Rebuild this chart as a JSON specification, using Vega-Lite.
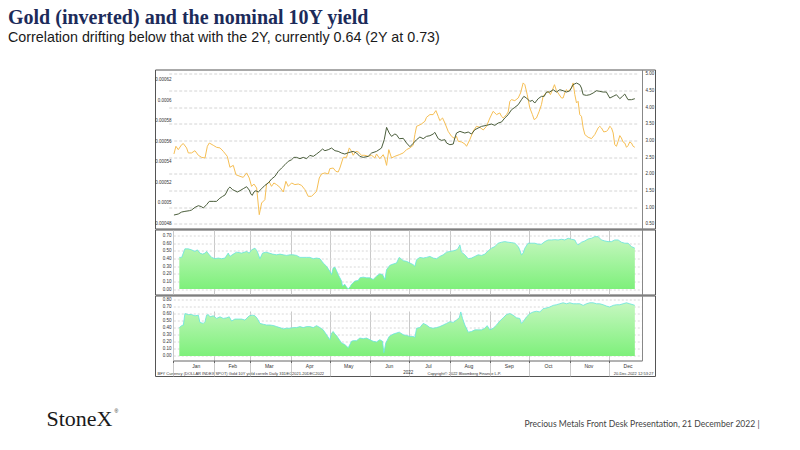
{
"$schema": "https://vega.github.io/schema/vega-lite/v6.json",
"autosize": {"type": "none"},
"padding": {"left": 155, "top": 69.5, "right": 645, "bottom": 380.5},
"background": "white",
"title": {"text": "Gold (inverted) and the nominal 10Y yield", "subtitle": "Correlation drifting below that with the 2Y, currently 0.64 (2Y at 0.73)", "anchor": "start", "frame": "group", "dx": -147, "offset": 24, "font": "Liberation Serif", "fontSize": 20, "fontWeight": "bold", "color": "#1c2b5a", "subtitleFont": "Liberation Sans", "subtitleFontSize": 14.3, "subtitleColor": "#1a1a1a", "subtitlePadding": 3},
"config": {
  "view": {"stroke": "#555", "strokeWidth": 1},
  "axis": {"labelFont": "Liberation Sans", "labelFontSize": 4.5, "labelColor": "#333", "titleFont": "Liberation Sans", "titleFontWeight": "normal", "titleColor": "#333", "titleFontSize": 4, "tickSize": 0, "ticks": false, "domain": false, "grid": false}
},
"bounds": "flush",
"spacing": 1,
"datasets": {
"gold": [
{"day":0.5,"value":0.0005476},{"day":2.0,"value":0.0005551},{"day":3.8,"value":0.0005518},{"day":6.4,"value":0.0005567},{"day":7.7,"value":0.0005577},{"day":10.2,"value":0.0005535},{"day":11.5,"value":0.0005486},{"day":14.0,"value":0.0005486},{"day":16.6,"value":0.0005508},{"day":19.2,"value":0.0005463},{"day":21.7,"value":0.0005443},{"day":24.3,"value":0.0005437},{"day":26.1,"value":0.0005551},{"day":27.6,"value":0.0005583},{"day":30.6,"value":0.0005561},{"day":33.2,"value":0.0005541},{"day":35.8,"value":0.0005535},{"day":38.3,"value":0.0005502},{"day":41.4,"value":0.0005453},{"day":43.4,"value":0.0005346},{"day":46.0,"value":0.0005365},{"day":48.0,"value":0.0005274},{"day":51.1,"value":0.0005258},{"day":53.6,"value":0.0005248},{"day":56.2,"value":0.0005291},{"day":58.2,"value":0.0005242},{"day":60.0,"value":0.0005160},{"day":61.8,"value":0.0005183},{"day":63.9,"value":0.0005144},{"day":65.9,"value":0.0004884},{"day":67.7,"value":0.0004998},{"day":70.2,"value":0.0005030},{"day":71.5,"value":0.0005183},{"day":73.6,"value":0.0005203},{"day":75.3,"value":0.0005160},{"day":77.1,"value":0.0005193},{"day":79.2,"value":0.0005177},{"day":81.7,"value":0.0005151},{"day":84.3,"value":0.0005105},{"day":86.3,"value":0.0005209},{"day":88.1,"value":0.0005160},{"day":90.7,"value":0.0005193},{"day":93.2,"value":0.0005177},{"day":95.8,"value":0.0005183},{"day":98.3,"value":0.0005170},{"day":100.9,"value":0.0005128},{"day":103.4,"value":0.0005063},{"day":106.0,"value":0.0005063},{"day":107.8,"value":0.0005086},{"day":109.8,"value":0.0005112},{"day":111.9,"value":0.0005242},{"day":113.7,"value":0.0005281},{"day":116.2,"value":0.0005291},{"day":118.8,"value":0.0005281},{"day":120.0,"value":0.0005333},{"day":122.6,"value":0.0005339},{"day":124.6,"value":0.0005307},{"day":126.4,"value":0.0005300},{"day":127.7,"value":0.0005339},{"day":130.3,"value":0.0005443},{"day":132.8,"value":0.0005443},{"day":134.9,"value":0.0005535},{"day":136.6,"value":0.0005502},{"day":137.9,"value":0.0005463},{"day":140.0,"value":0.0005502},{"day":141.7,"value":0.0005496},{"day":144.3,"value":0.0005463},{"day":146.9,"value":0.0005463},{"day":149.4,"value":0.0005453},{"day":152.0,"value":0.0005463},{"day":154.5,"value":0.0005437},{"day":155.8,"value":0.0005476},{"day":158.3,"value":0.0005430},{"day":160.9,"value":0.0005469},{"day":162.2,"value":0.0005430},{"day":163.5,"value":0.0005365},{"day":165.2,"value":0.0005518},{"day":167.3,"value":0.0005437},{"day":169.8,"value":0.0005453},{"day":173.2,"value":0.0005469},
{"day":176.3,"value":0.0005486},{"day":178.8,"value":0.0005518},{"day":181.4,"value":0.0005535},{"day":183.9,"value":0.0005561},{"day":185.2,"value":0.0005665},{"day":186.5,"value":0.0005746},{"day":187.7,"value":0.0005752},{"day":190.3,"value":0.0005769},{"day":192.9,"value":0.0005795},{"day":194.1,"value":0.0005834},{"day":196.7,"value":0.0005860},{"day":199.2,"value":0.0005860},{"day":201.3,"value":0.0005899},{"day":203.1,"value":0.0005843},{"day":204.3,"value":0.0005801},{"day":206.4,"value":0.0005827},{"day":208.2,"value":0.0005778},{"day":210.7,"value":0.0005697},{"day":213.3,"value":0.0005648},{"day":215.8,"value":0.0005626},{"day":217.1,"value":0.0005648},{"day":218.4,"value":0.0005600},{"day":221.0,"value":0.0005593},{"day":223.5,"value":0.0005574},{"day":224.8,"value":0.0005551},{"day":227.3,"value":0.0005616},{"day":229.9,"value":0.0005697},{"day":232.4,"value":0.0005746},{"day":235.0,"value":0.0005736},{"day":237.6,"value":0.0005710},{"day":240.1,"value":0.0005746},{"day":242.7,"value":0.0005827},{"day":245.2,"value":0.0005892},{"day":247.8,"value":0.0005860},{"day":250.3,"value":0.0005876},{"day":251.6,"value":0.0005843},{"day":252.9,"value":0.0005827},{"day":255.4,"value":0.0005860},{"day":256.7,"value":0.0005886},{"day":258.0,"value":0.0005990},{"day":259.3,"value":0.0006006},{"day":261.8,"value":0.0005996},{"day":264.4,"value":0.0006022},{"day":266.2,"value":0.0006071},{"day":268.2,"value":0.0006169},{"day":269.5,"value":0.0006152},{"day":271.3,"value":0.0006055},{"day":273.3,"value":0.0005925},{"day":275.3,"value":0.0005860},{"day":276.6,"value":0.0005811},{"day":278.4,"value":0.0005827},{"day":280.5,"value":0.0005892},{"day":282.2,"value":0.0005957},{"day":283.5,"value":0.0006039},{"day":285.6,"value":0.0006071},{"day":287.4,"value":0.0006087},{"day":289.1,"value":0.0006055},{"day":290.7,"value":0.0006104},{"day":292.2,"value":0.0006152},{"day":293.7,"value":0.0006094},{"day":295.8,"value":0.0006055},{"day":297.6,"value":0.0006022},{"day":298.8,"value":0.0006022},{"day":300.1,"value":0.0006071},{"day":301.4,"value":0.0006104},{"day":302.7,"value":0.0006081},{"day":304.0,"value":0.0006104},{"day":305.2,"value":0.0006120},{"day":306.5,"value":0.0006169},{"day":307.8,"value":0.0006055},{"day":309.1,"value":0.0005974},{"day":310.3,"value":0.0005990},{"day":311.6,"value":0.0005860},{"day":312.9,"value":0.0005843},{"day":314.2,"value":0.0005730},{"day":315.5,"value":0.0005665},{"day":318.0,"value":0.0005639},{"day":320.6,"value":0.0005626},{"day":323.1,"value":0.0005665},{"day":325.7,"value":0.0005730},{"day":326.9,"value":0.0005746},{"day":328.2,"value":0.0005730},{"day":330.0,"value":0.0005691},{"day":332.0,"value":0.0005697},{"day":333.3,"value":0.0005713},{"day":334.6,"value":0.0005746},{"day":335.9,"value":0.0005730},{"day":337.2,"value":0.0005681},{"day":338.4,"value":0.0005567},{"day":339.7,"value":0.0005551},{"day":341.0,"value":0.0005600},{"day":342.3,"value":0.0005655},{"day":343.5,"value":0.0005632},{"day":344.8,"value":0.0005593},{"day":346.1,"value":0.0005583},{"day":347.4,"value":0.0005541},{"day":348.6,"value":0.0005557},{"day":349.9,"value":0.0005593},{"day":351.2,"value":0.0005583},{"day":352.5,"value":0.0005551},{"day":353.8,"value":0.0005541}
],
"yield": [
{"day":0.5,"value":0.76},{"day":3.8,"value":0.79},{"day":6.4,"value":0.85},{"day":8.9,"value":0.87},{"day":12.3,"value":0.89},{"day":14.0,"value":0.91},{"day":16.6,"value":0.99},{"day":19.2,"value":1.04},{"day":21.7,"value":1.01},{"day":23.0,"value":0.97},{"day":25.5,"value":1.07},{"day":27.6,"value":1.17},{"day":30.6,"value":1.17},{"day":33.2,"value":1.17},{"day":35.2,"value":1.25},{"day":37.8,"value":1.32},{"day":39.6,"value":1.36},{"day":40.9,"value":1.45},{"day":42.1,"value":1.55},{"day":43.4,"value":1.60},{"day":45.5,"value":1.52},{"day":47.2,"value":1.49},{"day":49.0,"value":1.45},{"day":51.1,"value":1.49},{"day":53.6,"value":1.55},{"day":56.2,"value":1.61},{"day":58.2,"value":1.51},{"day":59.5,"value":1.39},{"day":60.5,"value":1.35},{"day":61.8,"value":1.45},{"day":63.3,"value":1.49},{"day":65.1,"value":1.45},{"day":67.7,"value":1.55},{"day":70.2,"value":1.65},{"day":72.8,"value":1.72},{"day":75.3,"value":1.84},{"day":77.9,"value":1.92},{"day":80.5,"value":2.07},{"day":83.0,"value":2.17},{"day":85.6,"value":2.27},{"day":88.1,"value":2.37},{"day":90.7,"value":2.42},{"day":92.5,"value":2.49},{"day":94.5,"value":2.49},{"day":97.1,"value":2.45},{"day":99.6,"value":2.49},{"day":102.2,"value":2.45},{"day":104.7,"value":2.55},{"day":107.3,"value":2.52},{"day":109.8,"value":2.59},{"day":112.4,"value":2.67},{"day":114.4,"value":2.74},{"day":116.2,"value":2.69},{"day":118.8,"value":2.72},{"day":121.3,"value":2.77},{"day":123.9,"value":2.69},{"day":126.4,"value":2.67},{"day":129.0,"value":2.62},{"day":131.5,"value":2.59},{"day":134.1,"value":2.63},{"day":137.9,"value":2.67},{"day":140.5,"value":2.62},{"day":143.0,"value":2.52},{"day":145.6,"value":2.49},{"day":149.4,"value":2.52},{"day":152.0,"value":2.62},{"day":155.8,"value":2.67},{"day":159.6,"value":2.77},{"day":161.7,"value":3.02},{"day":163.5,"value":3.39},{"day":165.5,"value":3.22},{"day":167.3,"value":3.12},{"day":169.8,"value":3.19},{"day":171.1,"value":3.17},{"day":173.2,"value":3.05},
{"day":176.3,"value":3.06},{"day":178.8,"value":2.92},{"day":181.4,"value":2.81},{"day":183.9,"value":2.91},{"day":186.5,"value":3.02},{"day":189.0,"value":3.10},{"day":191.6,"value":3.05},{"day":194.1,"value":3.12},{"day":196.7,"value":3.14},{"day":199.2,"value":3.19},{"day":200.5,"value":3.24},{"day":203.1,"value":3.05},{"day":205.6,"value":3.00},{"day":208.2,"value":3.02},{"day":209.5,"value":2.92},{"day":212.0,"value":2.87},{"day":214.6,"value":2.89},{"day":215.8,"value":3.07},{"day":217.1,"value":3.22},{"day":219.7,"value":3.27},{"day":223.5,"value":3.22},{"day":226.1,"value":3.25},{"day":228.6,"value":3.19},{"day":231.2,"value":3.32},{"day":233.7,"value":3.37},{"day":236.3,"value":3.42},{"day":240.1,"value":3.45},{"day":243.9,"value":3.49},{"day":246.5,"value":3.45},{"day":249.0,"value":3.52},{"day":251.6,"value":3.55},{"day":254.1,"value":3.67},{"day":256.7,"value":3.77},{"day":259.3,"value":3.92},{"day":261.8,"value":3.99},{"day":264.4,"value":4.07},{"day":266.9,"value":4.22},{"day":268.7,"value":4.32},{"day":270.8,"value":4.27},{"day":273.3,"value":4.17},{"day":275.3,"value":4.20},{"day":277.1,"value":4.12},{"day":279.7,"value":4.25},{"day":282.2,"value":4.32},{"day":284.3,"value":4.32},{"day":286.1,"value":4.45},{"day":288.6,"value":4.45},{"day":291.2,"value":4.52},{"day":293.7,"value":4.45},{"day":296.3,"value":4.52},{"day":298.8,"value":4.49},{"day":301.4,"value":4.45},{"day":304.0,"value":4.49},{"day":306.5,"value":4.67},{"day":309.1,"value":4.72},{"day":311.6,"value":4.67},{"day":312.9,"value":4.57},{"day":314.2,"value":4.37},{"day":316.7,"value":4.35},{"day":319.3,"value":4.37},{"day":321.8,"value":4.42},{"day":324.4,"value":4.49},{"day":326.9,"value":4.47},{"day":329.5,"value":4.45},{"day":332.0,"value":4.45},{"day":334.6,"value":4.27},{"day":337.2,"value":4.32},{"day":339.7,"value":4.37},{"day":342.3,"value":4.25},{"day":344.3,"value":4.32},{"day":346.1,"value":4.39},{"day":348.6,"value":4.22},{"day":351.2,"value":4.22},{"day":353.8,"value":4.25}
],
"c10": [
{"day":4.6,"value":0.415},{"day":6.4,"value":0.415},{"day":8.9,"value":0.527},{"day":11.5,"value":0.527},{"day":14.0,"value":0.514},{"day":16.6,"value":0.493},{"day":18.4,"value":0.514},{"day":20.4,"value":0.471},{"day":22.5,"value":0.458},{"day":24.3,"value":0.471},{"day":25.5,"value":0.493},{"day":27.6,"value":0.449},{"day":29.4,"value":0.415},{"day":31.9,"value":0.398},{"day":34.5,"value":0.406},{"day":37.0,"value":0.398},{"day":39.6,"value":0.406},{"day":42.1,"value":0.471},{"day":43.4,"value":0.428},{"day":46.0,"value":0.458},{"day":48.5,"value":0.484},{"day":52.4,"value":0.471},{"day":56.2,"value":0.493},{"day":58.2,"value":0.471},{"day":60.0,"value":0.514},{"day":62.6,"value":0.536},{"day":64.4,"value":0.493},{"day":66.4,"value":0.398},{"day":68.4,"value":0.471},{"day":71.0,"value":0.484},{"day":73.6,"value":0.471},{"day":76.1,"value":0.458},{"day":79.2,"value":0.449},{"day":81.7,"value":0.458},{"day":84.3,"value":0.449},{"day":86.8,"value":0.441},{"day":89.4,"value":0.449},{"day":91.9,"value":0.449},{"day":94.5,"value":0.441},{"day":97.1,"value":0.415},{"day":102.2,"value":0.415},{"day":104.7,"value":0.415},{"day":107.3,"value":0.398},{"day":109.8,"value":0.406},{"day":112.4,"value":0.398},{"day":114.9,"value":0.341},{"day":117.5,"value":0.298},{"day":120.0,"value":0.233},{"day":121.3,"value":0.190},{"day":122.6,"value":0.277},{"day":123.9,"value":0.285},{"day":125.1,"value":0.242},{"day":126.4,"value":0.190},{"day":127.7,"value":0.147},{"day":129.0,"value":0.104},{"day":129.7,"value":0.039},{"day":131.5,"value":0.061},{"day":132.8,"value":0.026},{"day":134.1,"value":0.0},{"day":135.4,"value":0.026},{"day":136.6,"value":0.061},{"day":139.2,"value":0.104},{"day":141.7,"value":0.112},{"day":143.0,"value":0.147},{"day":145.6,"value":0.156},{"day":148.1,"value":0.147},{"day":150.7,"value":0.147},{"day":153.2,"value":0.125},{"day":155.8,"value":0.169},{"day":158.3,"value":0.199},{"day":160.4,"value":0.190},{"day":162.2,"value":0.125},{"day":163.5,"value":0.255},{"day":166.0,"value":0.311},{"day":168.6,"value":0.328},{"day":171.1,"value":0.341},{"day":173.2,"value":0.415},
{"day":176.3,"value":0.372},{"day":178.8,"value":0.363},{"day":181.4,"value":0.341},{"day":183.9,"value":0.320},{"day":185.2,"value":0.298},{"day":186.5,"value":0.385},{"day":189.0,"value":0.415},{"day":191.6,"value":0.406},{"day":194.1,"value":0.415},{"day":196.7,"value":0.428},{"day":199.2,"value":0.406},{"day":201.8,"value":0.398},{"day":204.3,"value":0.428},{"day":206.9,"value":0.449},{"day":209.5,"value":0.484},{"day":212.0,"value":0.493},{"day":214.6,"value":0.501},{"day":217.1,"value":0.514},{"day":218.4,"value":0.536},{"day":219.7,"value":0.579},{"day":220.9,"value":0.484},{"day":223.5,"value":0.449},{"day":226.1,"value":0.398},{"day":228.6,"value":0.406},{"day":231.2,"value":0.428},{"day":233.7,"value":0.449},{"day":236.3,"value":0.441},{"day":238.8,"value":0.458},{"day":241.4,"value":0.501},{"day":243.9,"value":0.536},{"day":246.5,"value":0.557},{"day":249.0,"value":0.601},{"day":251.6,"value":0.614},{"day":254.1,"value":0.622},{"day":256.7,"value":0.614},{"day":259.3,"value":0.609},{"day":261.8,"value":0.601},{"day":264.4,"value":0.557},{"day":265.6,"value":0.514},{"day":266.9,"value":0.449},{"day":268.2,"value":0.471},{"day":269.5,"value":0.536},{"day":272.0,"value":0.601},{"day":274.6,"value":0.601},{"day":277.1,"value":0.601},{"day":279.7,"value":0.588},{"day":282.2,"value":0.588},{"day":284.8,"value":0.622},{"day":287.4,"value":0.644},{"day":289.9,"value":0.644},{"day":292.5,"value":0.648},{"day":295.0,"value":0.644},{"day":297.6,"value":0.653},{"day":300.1,"value":0.644},{"day":302.7,"value":0.666},{"day":305.2,"value":0.653},{"day":307.8,"value":0.644},{"day":309.1,"value":0.601},{"day":310.3,"value":0.579},{"day":312.9,"value":0.614},{"day":315.5,"value":0.631},{"day":318.0,"value":0.657},{"day":320.6,"value":0.666},{"day":323.1,"value":0.687},{"day":325.7,"value":0.687},{"day":328.2,"value":0.644},{"day":330.8,"value":0.631},{"day":333.3,"value":0.622},{"day":335.9,"value":0.622},{"day":338.4,"value":0.644},{"day":341.0,"value":0.644},{"day":343.5,"value":0.614},{"day":346.1,"value":0.601},{"day":348.6,"value":0.601},{"day":351.2,"value":0.557},{"day":353.8,"value":0.536}
],
"c2": [
{"day":4.6,"value":0.402},{"day":6.4,"value":0.430},{"day":7.7,"value":0.439},{"day":8.9,"value":0.601},{"day":11.5,"value":0.587},{"day":14.0,"value":0.587},{"day":16.6,"value":0.569},{"day":19.2,"value":0.578},{"day":20.4,"value":0.476},{"day":23.0,"value":0.462},{"day":24.3,"value":0.486},{"day":25.5,"value":0.578},{"day":26.8,"value":0.587},{"day":28.1,"value":0.555},{"day":30.6,"value":0.569},{"day":33.2,"value":0.532},{"day":35.8,"value":0.555},{"day":38.3,"value":0.532},{"day":40.9,"value":0.541},{"day":42.9,"value":0.555},{"day":44.7,"value":0.495},{"day":47.2,"value":0.523},{"day":49.8,"value":0.523},{"day":52.4,"value":0.523},{"day":54.9,"value":0.509},{"day":58.2,"value":0.569},{"day":60.8,"value":0.578},{"day":62.6,"value":0.569},{"day":64.4,"value":0.532},{"day":66.4,"value":0.462},{"day":69.0,"value":0.449},{"day":71.5,"value":0.439},{"day":74.1,"value":0.439},{"day":77.1,"value":0.430},{"day":79.2,"value":0.416},{"day":81.7,"value":0.402},{"day":84.3,"value":0.384},{"day":86.8,"value":0.393},{"day":89.4,"value":0.393},{"day":91.9,"value":0.402},{"day":94.5,"value":0.402},{"day":97.1,"value":0.416},{"day":99.6,"value":0.402},{"day":102.2,"value":0.416},{"day":104.7,"value":0.416},{"day":107.3,"value":0.402},{"day":109.8,"value":0.430},{"day":112.4,"value":0.402},{"day":114.9,"value":0.370},{"day":117.5,"value":0.301},{"day":120.0,"value":0.231},{"day":121.3,"value":0.324},{"day":122.6,"value":0.347},{"day":123.9,"value":0.310},{"day":125.1,"value":0.291},{"day":126.4,"value":0.254},{"day":129.0,"value":0.185},{"day":131.5,"value":0.162},{"day":134.1,"value":0.116},{"day":136.6,"value":0.208},{"day":137.9,"value":0.217},{"day":140.5,"value":0.217},{"day":143.0,"value":0.254},{"day":145.6,"value":0.245},{"day":148.1,"value":0.254},{"day":150.7,"value":0.231},{"day":153.2,"value":0.208},{"day":155.8,"value":0.199},{"day":158.3,"value":0.231},{"day":160.4,"value":0.208},{"day":161.4,"value":0.046},{"day":162.9,"value":0.185},{"day":165.5,"value":0.277},{"day":168.6,"value":0.310},{"day":173.2,"value":0.338},
{"day":176.3,"value":0.301},{"day":178.8,"value":0.291},{"day":181.4,"value":0.277},{"day":183.9,"value":0.277},{"day":185.2,"value":0.264},{"day":186.5,"value":0.393},{"day":189.0,"value":0.402},{"day":191.6,"value":0.462},{"day":194.1,"value":0.439},{"day":196.7,"value":0.402},{"day":199.2,"value":0.393},{"day":201.8,"value":0.402},{"day":204.3,"value":0.416},{"day":206.9,"value":0.439},{"day":209.5,"value":0.462},{"day":212.0,"value":0.486},{"day":214.6,"value":0.476},{"day":217.1,"value":0.509},{"day":219.2,"value":0.541},{"day":220.4,"value":0.624},{"day":221.7,"value":0.532},{"day":223.5,"value":0.439},{"day":226.1,"value":0.338},{"day":228.6,"value":0.347},{"day":231.2,"value":0.370},{"day":233.7,"value":0.370},{"day":236.3,"value":0.370},{"day":238.8,"value":0.393},{"day":240.6,"value":0.430},{"day":242.7,"value":0.370},{"day":245.2,"value":0.393},{"day":247.8,"value":0.439},{"day":250.3,"value":0.495},{"day":252.9,"value":0.541},{"day":255.4,"value":0.587},{"day":258.0,"value":0.601},{"day":260.5,"value":0.578},{"day":263.1,"value":0.541},{"day":265.6,"value":0.532},{"day":266.9,"value":0.462},{"day":268.2,"value":0.486},{"day":270.8,"value":0.555},{"day":273.3,"value":0.601},{"day":275.9,"value":0.624},{"day":278.4,"value":0.634},{"day":281.0,"value":0.624},{"day":283.5,"value":0.671},{"day":286.1,"value":0.680},{"day":288.6,"value":0.694},{"day":291.2,"value":0.717},{"day":293.7,"value":0.726},{"day":296.3,"value":0.740},{"day":298.8,"value":0.754},{"day":301.4,"value":0.740},{"day":304.0,"value":0.754},{"day":306.5,"value":0.740},{"day":309.1,"value":0.740},{"day":311.6,"value":0.740},{"day":314.2,"value":0.717},{"day":316.7,"value":0.740},{"day":319.3,"value":0.754},{"day":321.8,"value":0.754},{"day":324.4,"value":0.740},{"day":326.9,"value":0.740},{"day":329.5,"value":0.726},{"day":332.0,"value":0.708},{"day":334.6,"value":0.694},{"day":337.2,"value":0.717},{"day":339.7,"value":0.726},{"day":342.3,"value":0.726},{"day":344.8,"value":0.740},{"day":347.4,"value":0.754},{"day":349.9,"value":0.740},{"day":352.5,"value":0.726},{"day":353.8,"value":0.717}
]
},
"vconcat": [
{
  "width": 500, "height": 159,
  "layer": [
    {"data": {"name": "gold"},
     "mark": {"type": "line", "color": "#f6bf55", "strokeWidth": 1},
     "encoding": {
       "x": {"field": "day", "type": "quantitative", "scale": {"domain": [0, 359.3], "range": [18.3, 487], "nice": false, "zero": false},
             "axis": {"labels": false, "ticks": false, "domain": false, "grid": false, "title": "BFY Currency (DOLLAR INDEX SPOT) Gold 10Y yield correln   Daily 31DEC2021-20DEC2022", "titleX": 2, "titleY": 144.5, "titleAlign": "left", "titleBaseline": "middle"}},
       "y": {"field": "value", "type": "quantitative", "scale": {"domain": [0.0004749, 0.00063], "nice": false, "zero": false},
             "axis": {"values": [0.00048, 0.0005, 0.00052, 0.00054, 0.00056, 0.00058, 0.0006, 0.00062], "format": "~g", "labelAlign": "right", "labelBaseline": "middle", "labelPadding": -16, "tickSize": 0, "ticks": false, "domain": false, "grid": false, "title": null}}
     }},
    {"data": {"name": "yield"},
     "mark": {"type": "line", "color": "#4b5e3c", "strokeWidth": 1},
     "encoding": {
       "x": {"field": "day", "type": "quantitative"},
       "y": {"field": "value", "type": "quantitative", "scale": {"domain": [0.356, 5.126], "nice": false, "zero": false},
             "axis": {"orient": "right", "offset": -13, "values": [0.5, 1, 1.5, 2, 2.5, 3, 3.5, 4, 4.5, 5], "format": ".2f", "labelAlign": "left", "labelBaseline": "middle", "labelPadding": 3, "tickSize": 0, "ticks": false, "domain": true, "domainColor": "#888", "grid": true, "gridColor": "#d4d4d4", "gridDash": [3, 2], "title": null}}
     }}
  ],
  "resolve": {"scale": {"y": "independent"}, "axis": {"y": "independent"}}
},
{
  "width": 500, "height": 65,
  "data": {"name": "c10"},
  "layer": [
    {"mark": {"type": "area", "color": {"gradient": "linear", "x1": 0, "y1": 0, "x2": 0, "y2": 1, "stops": [{"offset": 0, "color": "#c6f7c0"}, {"offset": 1, "color": "#7ef07b"}]}},
     "encoding": {
       "x": {"field": "day", "type": "quantitative", "scale": {"domain": [0, 359.3], "range": [18.3, 487], "nice": false, "zero": false},
             "axis": {"values": [0, 31, 59, 90, 120, 151, 181, 212, 243, 273, 304, 334], "labels": false, "ticks": false, "domain": false, "grid": true, "gridColor": "#bbbbbb", "gridWidth": 0.8, "title": "Precious Metals Front Desk Presentation, 21 December 2022 |", "titleX": 369, "titleY": 128.5, "titleAlign": "left", "titleBaseline": "middle", "titleFont": "Lato", "titleFontSize": 8.6, "titleColor": "#444"}},
       "y": {"field": "value", "type": "quantitative", "scale": {"domain": [-0.072, 0.781], "nice": false, "zero": false},
             "axis": {"values": [0, 0.1, 0.2, 0.3, 0.4, 0.5, 0.6, 0.7], "format": ".2f", "labelAlign": "right", "labelBaseline": "middle", "labelPadding": -16, "tickSize": 0, "ticks": false, "domain": false, "grid": true, "gridColor": "#d8d8d8", "gridDash": [2, 2], "title": "Copyright© 2022 Bloomberg Finance L.P.", "titleAngle": 0, "titleX": 272, "titleY": 143.5, "titleAlign": "left", "titleBaseline": "middle"}},
       "y2": {"datum": 0}
     }},
    {"mark": {"type": "line", "color": "#66e3dd", "strokeWidth": 0.8},
     "encoding": {
       "x": {"field": "day", "type": "quantitative"},
       "y": {"field": "value", "type": "quantitative",
             "axis": {"orient": "right", "offset": -13, "labels": false, "ticks": false, "domain": true, "domainColor": "#888", "grid": false, "title": "20-Dec-2022 12:53:27", "titleAngle": 0, "titleX": 11, "titleY": 143.5, "titleAlign": "right", "titleBaseline": "middle"}}
     }}
  ],
  "resolve": {"axis": {"y": "independent"}}
},
{
  "width": 500, "height": 80.5,
  "data": {"name": "c2"},
  "layer": [
    {"mark": {"type": "area", "color": {"gradient": "linear", "x1": 0, "y1": 0, "x2": 0, "y2": 1, "stops": [{"offset": 0, "color": "#c6f7c0"}, {"offset": 1, "color": "#7ef07b"}]}},
     "encoding": {
       "x": {"field": "day", "type": "quantitative", "scale": {"domain": [0, 359.3], "range": [18.3, 487], "nice": false, "zero": false},
             "axis": {"values": [0, 31, 59, 90, 120, 151, 181, 212, 243, 273, 304, 334], "labelExpr": "['Jan','Feb','Mar','Apr','May','Jun','Jul','Aug','Sep','Oct','Nov','Dec'][indexof([0,31,59,90,120,151,181,212,243,273,304,334], datum.value)]", "labelOffset": 18.5, "labelFontSize": 5, "labelPadding": 1, "offset": -15.5, "ticks": true, "tickSize": 2, "tickColor": "#666", "domain": true, "domainColor": "#666", "grid": true, "gridColor": "#bbbbbb", "gridWidth": 0.8, "title": "2022", "titleFontSize": 4.5, "titlePadding": 1}},
       "y": {"field": "value", "type": "quantitative", "scale": {"domain": [-0.064, 0.857], "range": [65, 0], "nice": false, "zero": false},
             "axis": {"values": [0, 0.1, 0.2, 0.3, 0.4, 0.5, 0.6, 0.7, 0.8], "format": ".2f", "labelAlign": "right", "labelBaseline": "middle", "labelPadding": -16, "tickSize": 0, "ticks": false, "domain": false, "grid": true, "gridColor": "#d8d8d8", "gridDash": [2, 2], "title": "StoneX", "titleAngle": 0, "titleX": -109, "titleY": 122.5, "titleAlign": "left", "titleBaseline": "middle", "titleFont": "Liberation Serif", "titleFontSize": 22, "titleColor": "#1a1a1a"}},
       "y2": {"datum": 0}
     }},
    {"mark": {"type": "line", "color": "#66e3dd", "strokeWidth": 0.8},
     "encoding": {
       "x": {"field": "day", "type": "quantitative"},
       "y": {"field": "value", "type": "quantitative",
             "axis": {"orient": "right", "offset": -13, "labels": false, "ticks": false, "domain": true, "domainColor": "#888", "grid": false, "title": "®", "titleAngle": 0, "titleX": -528, "titleY": 114.5, "titleAlign": "left", "titleBaseline": "middle", "titleFontSize": 5, "titleColor": "#1a1a1a"}}
     }}
  ],
  "resolve": {"axis": {"y": "independent"}}
}
]
}
